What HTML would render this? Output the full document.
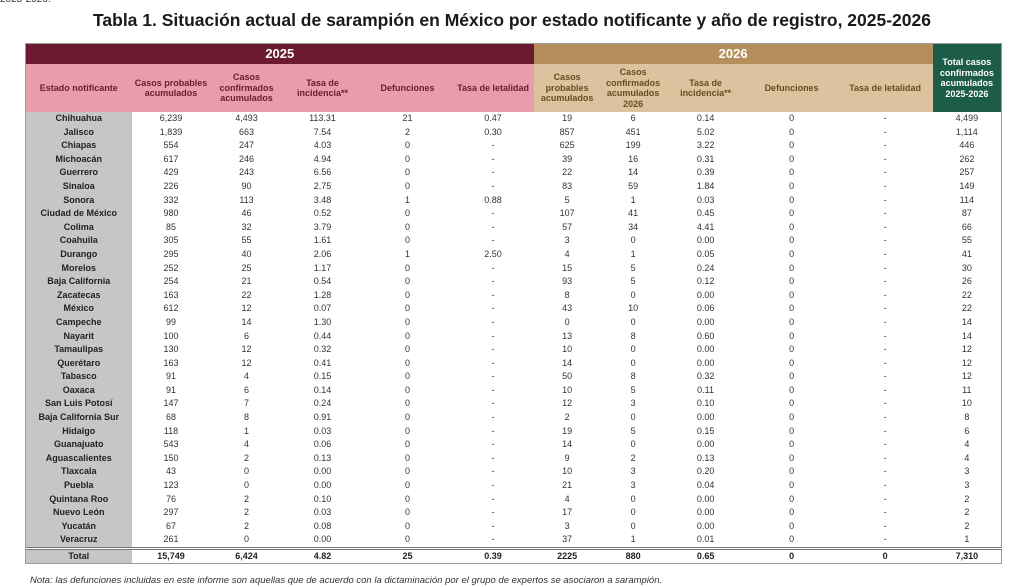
<!DOCTYPE html>
<html><head><meta charset="utf-8"><style>
body{margin:0;width:1024px;height:587px;background:#fff;position:relative;overflow:hidden;font-family:"Liberation Sans",sans-serif;}
.cut{position:absolute;left:0;top:-6px;font-size:10px;color:#333;}
.title{position:absolute;left:0;width:1024px;top:10px;text-align:center;font-weight:bold;font-size:17.5px;color:#1a1a1a;}
table{position:absolute;left:25px;top:43px;border-collapse:collapse;table-layout:fixed;width:976px;font-size:9px;color:#333;border:1px solid #999;}
td{padding:0;text-align:center;white-space:nowrap;overflow:hidden;line-height:13.6px;height:13.6px;}
.h1 td{height:20px;line-height:20px;font-weight:bold;color:#fff;font-size:13px;}
.h2 td{height:48px;font-weight:bold;font-size:9px;line-height:10.5px;white-space:normal;}
.p{background:#e99dac;color:#6b1a30;}
.t{background:#dcc3a0;color:#6b4a22;}
.g{background:#1e5c4a;color:#fff;}
td.s{background:#c6c6c6;font-weight:bold;color:#222;}
.tot td{font-weight:bold;border-top:3px double #777;height:13px;line-height:13px;color:#222;}
.note{position:absolute;left:30px;top:575px;font-size:9.5px;font-style:italic;color:#333;}
</style></head><body>
<div class="cut">2025-2026.</div>
<div class="title">Tabla 1. Situación actual de sarampión en México por estado notificante y año de registro, 2025-2026</div>
<table>
<colgroup><col style="width:106px"><col style="width:79px"><col style="width:72px"><col style="width:80px"><col style="width:90px"><col style="width:81px"><col style="width:67px"><col style="width:65px"><col style="width:80px"><col style="width:92px"><col style="width:95px"><col style="width:69px"></colgroup>
<tr class="h1"><td colspan="6" style="background:#6b1a30">2025</td><td colspan="5" style="background:#b58f5b">2026</td><td rowspan="2" class="g" style="font-size:9px;line-height:10.5px;white-space:normal">Total casos confirmados acumulados 2025-2026</td></tr>
<tr class="h2"><td class="p">Estado notificante</td><td class="p">Casos probables acumulados</td><td class="p">Casos confirmados acumulados</td><td class="p">Tasa de incidencia**</td><td class="p">Defunciones</td><td class="p">Tasa de letalidad</td><td class="t">Casos probables acumulados</td><td class="t">Casos confirmados acumulados 2026</td><td class="t">Tasa de incidencia**</td><td class="t">Defunciones</td><td class="t">Tasa de letalidad</td></tr>
<tr><td class="s">Chihuahua</td><td>6,239</td><td>4,493</td><td>113.31</td><td>21</td><td>0.47</td><td>19</td><td>6</td><td>0.14</td><td>0</td><td>-</td><td>4,499</td></tr>
<tr><td class="s">Jalisco</td><td>1,839</td><td>663</td><td>7.54</td><td>2</td><td>0.30</td><td>857</td><td>451</td><td>5.02</td><td>0</td><td>-</td><td>1,114</td></tr>
<tr><td class="s">Chiapas</td><td>554</td><td>247</td><td>4.03</td><td>0</td><td>-</td><td>625</td><td>199</td><td>3.22</td><td>0</td><td>-</td><td>446</td></tr>
<tr><td class="s">Michoacán</td><td>617</td><td>246</td><td>4.94</td><td>0</td><td>-</td><td>39</td><td>16</td><td>0.31</td><td>0</td><td>-</td><td>262</td></tr>
<tr><td class="s">Guerrero</td><td>429</td><td>243</td><td>6.56</td><td>0</td><td>-</td><td>22</td><td>14</td><td>0.39</td><td>0</td><td>-</td><td>257</td></tr>
<tr><td class="s">Sinaloa</td><td>226</td><td>90</td><td>2.75</td><td>0</td><td>-</td><td>83</td><td>59</td><td>1.84</td><td>0</td><td>-</td><td>149</td></tr>
<tr><td class="s">Sonora</td><td>332</td><td>113</td><td>3.48</td><td>1</td><td>0.88</td><td>5</td><td>1</td><td>0.03</td><td>0</td><td>-</td><td>114</td></tr>
<tr><td class="s">Ciudad de México</td><td>980</td><td>46</td><td>0.52</td><td>0</td><td>-</td><td>107</td><td>41</td><td>0.45</td><td>0</td><td>-</td><td>87</td></tr>
<tr><td class="s">Colima</td><td>85</td><td>32</td><td>3.79</td><td>0</td><td>-</td><td>57</td><td>34</td><td>4.41</td><td>0</td><td>-</td><td>66</td></tr>
<tr><td class="s">Coahuila</td><td>305</td><td>55</td><td>1.61</td><td>0</td><td>-</td><td>3</td><td>0</td><td>0.00</td><td>0</td><td>-</td><td>55</td></tr>
<tr><td class="s">Durango</td><td>295</td><td>40</td><td>2.06</td><td>1</td><td>2.50</td><td>4</td><td>1</td><td>0.05</td><td>0</td><td>-</td><td>41</td></tr>
<tr><td class="s">Morelos</td><td>252</td><td>25</td><td>1.17</td><td>0</td><td>-</td><td>15</td><td>5</td><td>0.24</td><td>0</td><td>-</td><td>30</td></tr>
<tr><td class="s">Baja California</td><td>254</td><td>21</td><td>0.54</td><td>0</td><td>-</td><td>93</td><td>5</td><td>0.12</td><td>0</td><td>-</td><td>26</td></tr>
<tr><td class="s">Zacatecas</td><td>163</td><td>22</td><td>1.28</td><td>0</td><td>-</td><td>8</td><td>0</td><td>0.00</td><td>0</td><td>-</td><td>22</td></tr>
<tr><td class="s">México</td><td>612</td><td>12</td><td>0.07</td><td>0</td><td>-</td><td>43</td><td>10</td><td>0.06</td><td>0</td><td>-</td><td>22</td></tr>
<tr><td class="s">Campeche</td><td>99</td><td>14</td><td>1.30</td><td>0</td><td>-</td><td>0</td><td>0</td><td>0.00</td><td>0</td><td>-</td><td>14</td></tr>
<tr><td class="s">Nayarit</td><td>100</td><td>6</td><td>0.44</td><td>0</td><td>-</td><td>13</td><td>8</td><td>0.60</td><td>0</td><td>-</td><td>14</td></tr>
<tr><td class="s">Tamaulipas</td><td>130</td><td>12</td><td>0.32</td><td>0</td><td>-</td><td>10</td><td>0</td><td>0.00</td><td>0</td><td>-</td><td>12</td></tr>
<tr><td class="s">Querétaro</td><td>163</td><td>12</td><td>0.41</td><td>0</td><td>-</td><td>14</td><td>0</td><td>0.00</td><td>0</td><td>-</td><td>12</td></tr>
<tr><td class="s">Tabasco</td><td>91</td><td>4</td><td>0.15</td><td>0</td><td>-</td><td>50</td><td>8</td><td>0.32</td><td>0</td><td>-</td><td>12</td></tr>
<tr><td class="s">Oaxaca</td><td>91</td><td>6</td><td>0.14</td><td>0</td><td>-</td><td>10</td><td>5</td><td>0.11</td><td>0</td><td>-</td><td>11</td></tr>
<tr><td class="s">San Luis Potosí</td><td>147</td><td>7</td><td>0.24</td><td>0</td><td>-</td><td>12</td><td>3</td><td>0.10</td><td>0</td><td>-</td><td>10</td></tr>
<tr><td class="s">Baja California Sur</td><td>68</td><td>8</td><td>0.91</td><td>0</td><td>-</td><td>2</td><td>0</td><td>0.00</td><td>0</td><td>-</td><td>8</td></tr>
<tr><td class="s">Hidalgo</td><td>118</td><td>1</td><td>0.03</td><td>0</td><td>-</td><td>19</td><td>5</td><td>0.15</td><td>0</td><td>-</td><td>6</td></tr>
<tr><td class="s">Guanajuato</td><td>543</td><td>4</td><td>0.06</td><td>0</td><td>-</td><td>14</td><td>0</td><td>0.00</td><td>0</td><td>-</td><td>4</td></tr>
<tr><td class="s">Aguascalientes</td><td>150</td><td>2</td><td>0.13</td><td>0</td><td>-</td><td>9</td><td>2</td><td>0.13</td><td>0</td><td>-</td><td>4</td></tr>
<tr><td class="s">Tlaxcala</td><td>43</td><td>0</td><td>0.00</td><td>0</td><td>-</td><td>10</td><td>3</td><td>0.20</td><td>0</td><td>-</td><td>3</td></tr>
<tr><td class="s">Puebla</td><td>123</td><td>0</td><td>0.00</td><td>0</td><td>-</td><td>21</td><td>3</td><td>0.04</td><td>0</td><td>-</td><td>3</td></tr>
<tr><td class="s">Quintana Roo</td><td>76</td><td>2</td><td>0.10</td><td>0</td><td>-</td><td>4</td><td>0</td><td>0.00</td><td>0</td><td>-</td><td>2</td></tr>
<tr><td class="s">Nuevo León</td><td>297</td><td>2</td><td>0.03</td><td>0</td><td>-</td><td>17</td><td>0</td><td>0.00</td><td>0</td><td>-</td><td>2</td></tr>
<tr><td class="s">Yucatán</td><td>67</td><td>2</td><td>0.08</td><td>0</td><td>-</td><td>3</td><td>0</td><td>0.00</td><td>0</td><td>-</td><td>2</td></tr>
<tr><td class="s">Veracruz</td><td>261</td><td>0</td><td>0.00</td><td>0</td><td>-</td><td>37</td><td>1</td><td>0.01</td><td>0</td><td>-</td><td>1</td></tr>
<tr class="tot"><td class="s">Total</td><td>15,749</td><td>6,424</td><td>4.82</td><td>25</td><td>0.39</td><td>2225</td><td>880</td><td>0.65</td><td>0</td><td>0</td><td>7,310</td></tr>
</table>
<div class="note">Nota: las defunciones incluidas en este informe son aquellas que de acuerdo con la dictaminación por el grupo de expertos se asociaron a sarampión.</div>
</body></html>
